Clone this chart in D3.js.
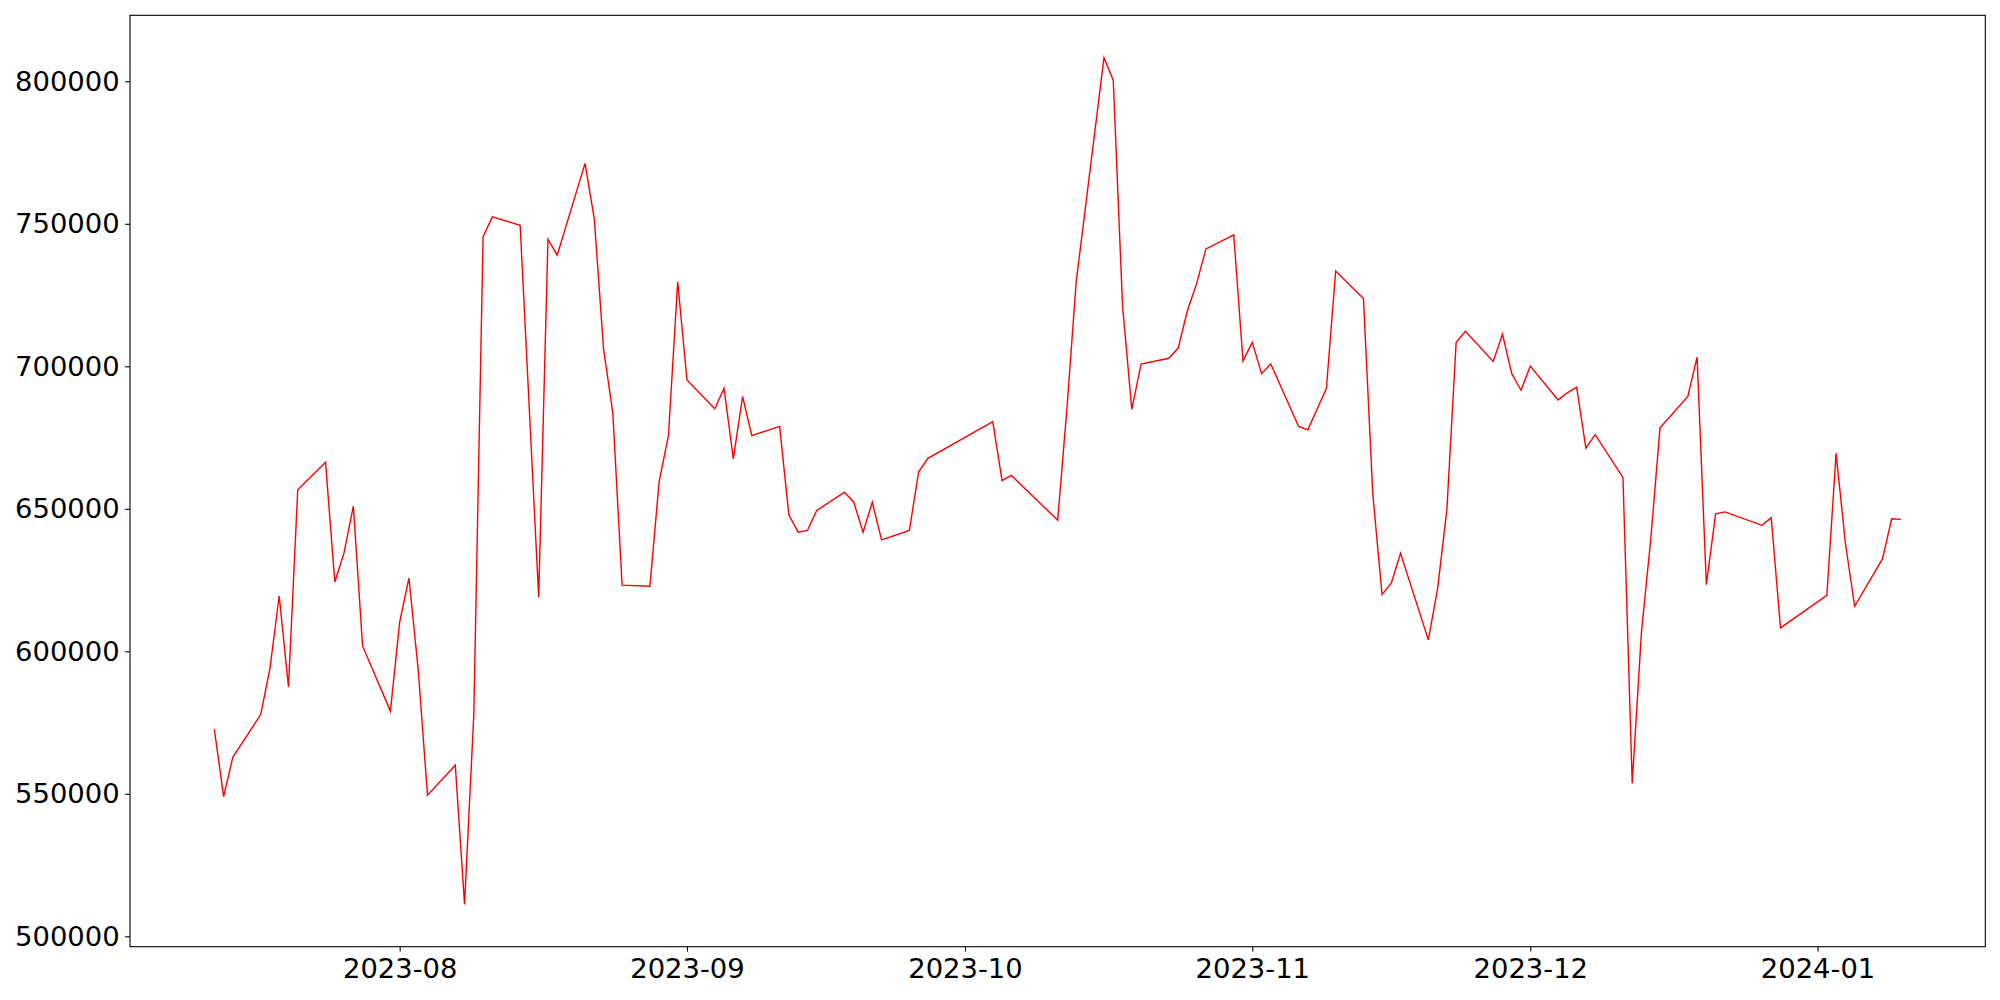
<!DOCTYPE html>
<html>
<head>
<meta charset="utf-8">
<script src="https://cdn.jsdelivr.net/npm/d3@7"></script>
<style>
  html, body { margin: 0; padding: 0; background: #fff; }
  svg { display: block; }
  text { font-family: "DejaVu Sans", sans-serif; }
</style>
</head>
<body>
<svg id="chart" width="2000" height="1000"></svg>
<script>
const dates = [
  "2023-07-12","2023-07-13","2023-07-14","2023-07-17","2023-07-18","2023-07-19","2023-07-20","2023-07-21",
  "2023-07-24","2023-07-25","2023-07-26","2023-07-27","2023-07-28","2023-07-31",
  "2023-08-01","2023-08-02","2023-08-03","2023-08-04","2023-08-07","2023-08-08","2023-08-09","2023-08-10","2023-08-11",
  "2023-08-14","2023-08-16","2023-08-17","2023-08-18","2023-08-21","2023-08-22","2023-08-23","2023-08-24","2023-08-25",
  "2023-08-28","2023-08-29","2023-08-30","2023-08-31","2023-09-01",
  "2023-09-04","2023-09-05","2023-09-06","2023-09-07","2023-09-08","2023-09-11","2023-09-12","2023-09-13","2023-09-14","2023-09-15",
  "2023-09-18","2023-09-19","2023-09-20","2023-09-21","2023-09-22","2023-09-25","2023-09-26","2023-09-27",
  "2023-10-04","2023-10-05","2023-10-06","2023-10-11","2023-10-12","2023-10-13",
  "2023-10-16","2023-10-17","2023-10-18","2023-10-19","2023-10-20","2023-10-23","2023-10-24","2023-10-25","2023-10-26","2023-10-27",
  "2023-10-30","2023-10-31","2023-11-01","2023-11-02","2023-11-03","2023-11-06","2023-11-07","2023-11-09","2023-11-10",
  "2023-11-13","2023-11-14","2023-11-15","2023-11-16","2023-11-17","2023-11-20","2023-11-21","2023-11-22","2023-11-23","2023-11-24",
  "2023-11-27","2023-11-28","2023-11-29","2023-11-30","2023-12-01","2023-12-04","2023-12-05","2023-12-06","2023-12-07","2023-12-08",
  "2023-12-11","2023-12-12","2023-12-13","2023-12-14","2023-12-15","2023-12-18","2023-12-19","2023-12-20","2023-12-21","2023-12-22",
  "2023-12-26","2023-12-27","2023-12-28","2024-01-02","2024-01-03","2024-01-04","2024-01-05","2024-01-08","2024-01-09","2024-01-10"
];
const values = [
  572700,549000,562900,577800,593900,619400,587500,656700,
  666300,624300,634600,650900,601800,579000,
  610200,625700,593500,549500,560000,511200,577800,745500,752400,
  749500,619000,744600,739000,771200,751700,706100,683600,623200,
  622800,659600,675700,729600,695200,
  685100,692300,667500,689400,675700,678900,647800,641800,642400,649400,
  655800,652300,641800,652300,639100,642400,663000,667700,
  680600,659900,661700,646000,685100,729600,
  808300,800400,721300,684900,700800,702800,706400,719500,729100,741200,
  746100,701900,708400,697400,700800,678900,677700,692300,733400,
  723800,655400,619900,623900,634400,604000,622000,649700,708400,712300,
  701700,711300,697400,691600,700100,688200,690700,692700,671300,676000,
  661000,553700,606900,639300,678400,689400,703200,623400,648200,648900,
  644200,646900,608200,619600,669500,638000,615800,632400,646500,646300
];
const yTicks = [500000, 550000, 600000, 650000, 700000, 750000, 800000];
const xTickLabels = ["2023-08","2023-09","2023-10","2023-11","2023-12","2024-01"];

(function () {
  const parse = d3.timeParse("%Y-%m-%d");
  const data = dates.map((d, i) => ({ date: parse(d), value: values[i] }));

  const pLeft = 130, pRight = 1985.3, pTop = 15.3, pBottom = 946.7;
  const svg = d3.select("#chart");

  const xExt = d3.extent(data, d => +d.date);
  const xPad = (xExt[1] - xExt[0]) * 0.05;
  const x = d3.scaleTime()
    .domain([new Date(xExt[0] - xPad), new Date(xExt[1] + xPad)])
    .range([pLeft, pRight]);

  const yExt = d3.extent(values);
  const yPad = (yExt[1] - yExt[0]) * 0.05;
  const y = d3.scaleLinear()
    .domain([yExt[0] - yPad, yExt[1] + yPad])
    .range([pBottom, pTop]);

  const monthFmt = d3.timeFormat("%Y-%m");
  const xTickDates = xTickLabels.map(s => d3.timeParse("%Y-%m")(s));

  const xAxis = d3.axisBottom(x)
    .tickValues(xTickDates)
    .tickFormat(monthFmt)
    .tickSize(4.9)
    .tickSizeOuter(0)
    .tickPadding(6.5);

  const yAxis = d3.axisLeft(y)
    .tickValues(yTicks)
    .tickFormat(d3.format("d"))
    .tickSize(4.9)
    .tickSizeOuter(0)
    .tickPadding(5.5);

  const gx = svg.append("g").attr("transform", `translate(0,${pBottom})`).call(xAxis);
  const gy = svg.append("g").attr("transform", `translate(${pLeft},0)`).call(yAxis);
  [gx, gy].forEach(g => {
    g.select(".domain").remove();
    g.selectAll(".tick line").attr("stroke", "#000").attr("stroke-width", 1.1);
    g.selectAll(".tick text")
      .attr("fill", "#000")
      .style("font-family", "'DejaVu Sans', sans-serif")
      .style("font-size", "27.4px");
  });

  const line = d3.line()
    .x(d => x(d.date))
    .y(d => y(d.value));

  svg.append("path")
    .datum(data)
    .attr("fill", "none")
    .attr("stroke", "#ff0000")
    .attr("stroke-width", 1.4)
    .attr("stroke-linejoin", "miter")
    .attr("d", line);

  svg.append("rect")
    .attr("x", pLeft).attr("y", pTop)
    .attr("width", pRight - pLeft).attr("height", pBottom - pTop)
    .attr("fill", "none")
    .attr("stroke", "#000")
    .attr("stroke-width", 1.1);
})();
</script>
</body>
</html>
